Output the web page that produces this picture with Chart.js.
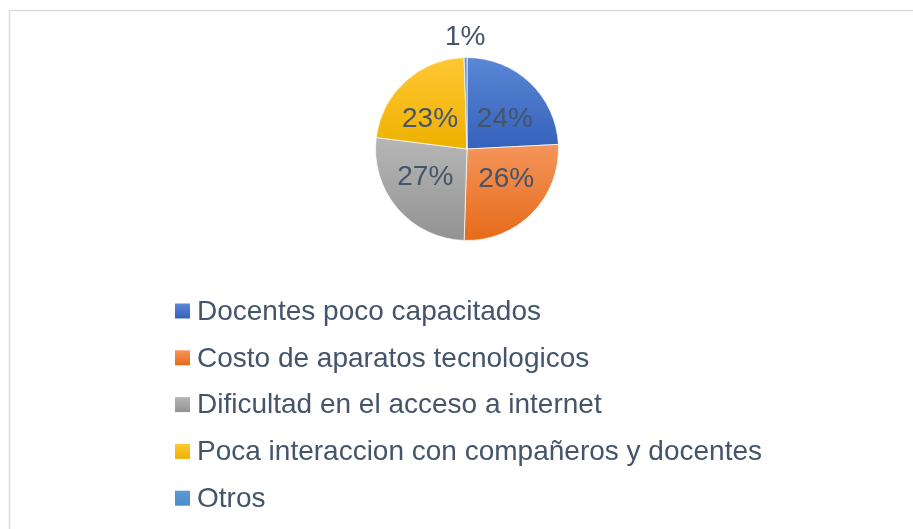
<!DOCTYPE html>
<html>
<head>
<meta charset="utf-8">
<script src="https://cdn.jsdelivr.net/npm/chart.js@4"></script>
<style>
  body { margin: 0; background: #fff; }
  #wrap { position: relative; width: 913px; height: 529px; }
</style>
</head>
<body>
<div id="wrap"><canvas id="pieCanvas"></canvas></div>
<script>
const categories = [
    "Docentes poco capacitados",
    "Costo de aparatos tecnologicos",
    "Dificultad en el acceso a internet",
    "Poca interaccion con compañeros y docentes",
    "Otros"
];
const values = [24.2, 26.3, 26.5, 22.5, 0.5];

const topColors = ["#5b87d7", "#f4955a", "#b6b6b6", "#ffc833", "#5b9bd5"];
const bottomColors = ["#3461ba", "#e66a19", "#929292", "#eeb000", "#4a8ccb"];
const textColor = "#44546a";
const font = "'Liberation Sans', Arial, sans-serif";

const total = values.reduce((a, b) => a + b, 0);

// vertical gradient over the y-extent of each slice
function sliceFill(ctx) {
    const chart = ctx.chart;
    const area = chart.chartArea;
    const i = ctx.dataIndex;
    if (!area || i === undefined) return topColors[i || 0];
    const cx = (area.left + area.right) / 2;
    const cy = (area.top + area.bottom) / 2;
    const r = Math.min(area.right - area.left, area.bottom - area.top) / 2;
    let before = 0;
    for (let k = 0; k < i; k++) before += values[k];
    const a0 = before / total * 2 * Math.PI;
    const a1 = (before + values[i]) / total * 2 * Math.PI;
    let ys = [cy, cy - r * Math.cos(a0), cy - r * Math.cos(a1)];
    if (a0 <= 0) ys.push(cy - r);
    if (a0 <= Math.PI && a1 >= Math.PI) ys.push(cy + r);
    const y0 = Math.min(...ys), y1 = Math.max(...ys);
    const g = chart.ctx.createLinearGradient(0, y0, 0, y1 + 1);
    g.addColorStop(0, topColors[i]);
    g.addColorStop(1, bottomColors[i]);
    return g;
}

const framePlugin = {
    id: "frame",
    beforeDraw(chart) {
        const c = chart.ctx;
        c.save();
        c.strokeStyle = "#d6dce4";
        c.lineWidth = 1.5;
        c.beginPath();
        c.moveTo(9.5, chart.height);
        c.lineTo(9.5, 10.5);
        c.lineTo(chart.width, 10.5);
        c.stroke();
        c.restore();
    }
};

const pctLabels = {
    id: "pctLabels",
    afterDatasetsDraw(chart) {
        const c = chart.ctx;
        const meta = chart.getDatasetMeta(0);
        c.save();
        c.font = "28px " + font;
        c.fillStyle = textColor;
        c.textAlign = "center";
        c.textBaseline = "middle";
        meta.data.forEach((arc, i) => {
            const pct = values[i] / total * 100;
            const mid = (arc.startAngle + arc.endAngle) / 2;
            let x, y;
            if (pct < 5) {
                const rr = arc.outerRadius + 21;
                x = arc.x + Math.cos(mid) * rr;
                y = arc.y + Math.sin(mid) * rr;
            } else {
                x = arc.x + Math.cos(mid) * arc.outerRadius * 0.6;
                y = arc.y + Math.sin(mid) * arc.outerRadius * 0.46;
            }
            c.fillText(Math.round(pct) + "%", x, y + 1);
        });
        c.restore();
    }
};

const listLegend = {
    id: "listLegend",
    afterDraw(chart) {
        const c = chart.ctx;
        const area = chart.chartArea;
        const boxX = 175, textX = 197, box = 15;
        const startY = area.bottom + 70, step = 46.8;
        c.save();
        c.font = "28px " + font;
        c.textBaseline = "middle";
        c.textAlign = "left";
        categories.forEach((name, i) => {
            const y = startY + i * step;
            const g = c.createLinearGradient(0, y - box / 2, 0, y + box / 2);
            g.addColorStop(0, topColors[i]);
            g.addColorStop(1, bottomColors[i]);
            c.fillStyle = g;
            c.fillRect(boxX, y - box / 2, box, box);
            c.fillStyle = textColor;
            c.fillText(name, textX, y + 1);
        });
        c.restore();
    }
};

new Chart(document.getElementById("pieCanvas"), {
    type: "pie",
    data: {
        labels: categories,
        datasets: [{
            data: values,
            backgroundColor: sliceFill,
            borderColor: "rgba(255,255,255,0.7)",
            borderWidth: 1
        }]
    },
    options: {
        responsive: true,
        maintainAspectRatio: false,
        animation: false,
        layout: { padding: { top: 57, bottom: 288, left: 21, right: 0 } },
        plugins: {
            legend: { display: false },
            tooltip: { enabled: false }
        }
    },
    plugins: [framePlugin, pctLabels, listLegend]
});
</script>
</body>
</html>
